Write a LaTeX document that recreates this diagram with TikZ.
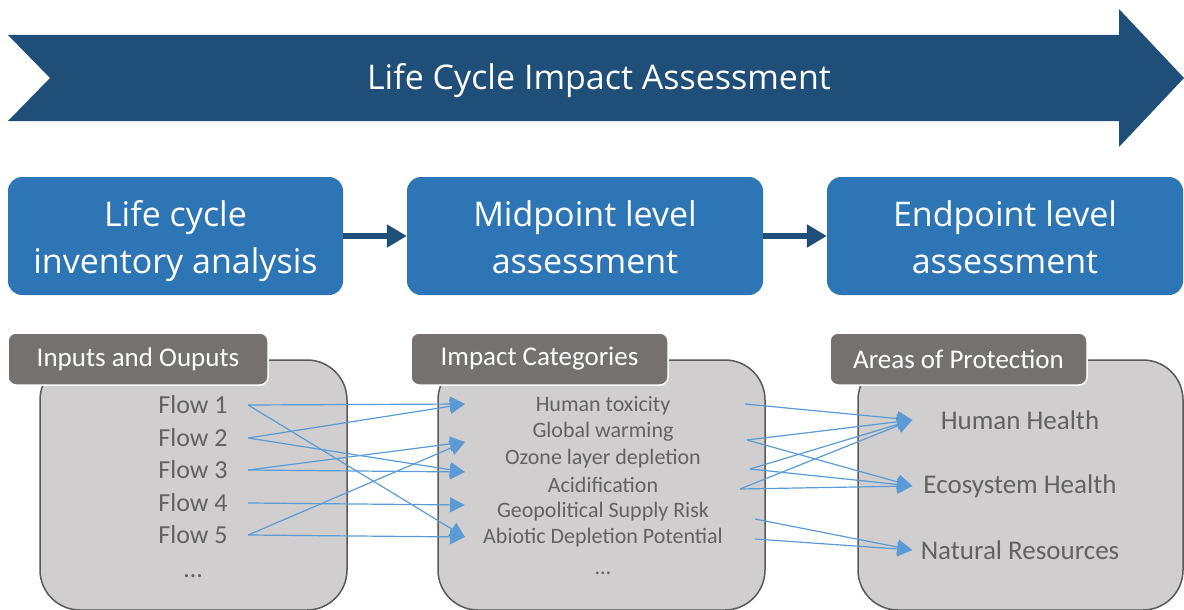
\documentclass[tikz,border=0pt]{standalone}
\usepackage{fontspec}
\setmainfont{Carlito}
\newfontfamily\headfont{Open Sans}
\usetikzlibrary{positioning,arrows.meta}
\definecolor{darkblue}{HTML}{1F4E79}
\definecolor{midblue}{HTML}{2E75B6}
\definecolor{lightblue}{HTML}{5B9BD5}
\definecolor{tabgray}{HTML}{767171}
\definecolor{panelgray}{HTML}{D0CECE}
\definecolor{edgegray}{HTML}{595959}
\definecolor{textgray}{HTML}{626262}
\newcommand{\stagestrut}{\rule{0pt}{36pt}}
\newcommand{\stagedepth}{\rule[-8pt]{0pt}{8pt}}

\begin{document}
\begin{tikzpicture}[x=1pt,y=-1pt]
\tikzstyle{stage}=[rounded corners=14pt,fill=midblue,text=white,minimum height=118pt,align=center,inner sep=0pt,font=\headfont\fontsize{34}{47}\selectfont]
\tikzstyle{panel}=[rounded corners=40pt,fill=panelgray,draw=edgegray,line width=1.5pt,minimum height=250pt]
\tikzstyle{tab}=[rounded corners=8pt,fill=tabgray,draw=white,line width=1.5pt,text=white,minimum height=52pt,font=\fontsize{27}{30}\selectfont]
\tikzstyle{flow}=[text=textgray,minimum width=110pt,inner sep=0pt,font=\fontsize{26}{30}\selectfont]
\tikzstyle{category}=[text=textgray,inner sep=0pt,font=\fontsize{22}{24}\selectfont]
\tikzstyle{area}=[text=textgray,minimum width=215pt,inner sep=0pt,font=\fontsize{27}{30}\selectfont]
\tikzstyle{link}=[lightblue,line width=1.2pt,-{Triangle[length=15pt,width=15pt]}]
\tikzstyle{stagelink}=[darkblue,line width=6pt,-{Triangle[length=20pt,width=22pt]}]
    \useasboundingbox (0,0) rectangle (1184,610);
    % banner
    \fill[darkblue] (8,35) -- (1119,35) -- (1119,9) -- (1184,78) -- (1119,147)
        -- (1119,121) -- (8,121) -- (50,78) -- cycle;
    \node[text=white,font=\headfont\fontsize{34}{40}\selectfont] (lcia) at (599,81) {Life Cycle Impact Assessment};
    % stages
    \node[stage,minimum width=335pt] (lci) at (175.5,236) {\stagestrut Life cycle\\inventory analysis\stagedepth};
    \node[stage,minimum width=356pt] (mid) at (585,236) {\stagestrut Midpoint level\\assessment\stagedepth};
    \node[stage,minimum width=356pt] (end) at (1005,236) {\stagestrut Endpoint level\\assessment\stagedepth};
    \draw[stagelink] (lci.east) -- (mid.west);
    \draw[stagelink] (mid.east) -- (end.west);
    % panels
    \node[panel,minimum width=307pt] (p1) at (193.5,485) {};
    \node[panel,minimum width=327pt] (p2) at (601.5,485) {};
    \node[panel,minimum width=325pt] (p3) at (1020.5,485) {};
    \node[tab,minimum width=260pt] (t1) at (138,359) {Inputs and Ouputs};
    \node[tab,minimum width=257pt] (t2) at (539.5,359) {Impact Categories};
    \node[tab,minimum width=257pt] (t3) at (958.5,359) {Areas of Protection};
    % flows
    \node[flow] (f1) at (193,405) {Flow 1};
    \node[flow] (f2) at (193,438) {Flow 2};
    \node[flow] (f3) at (193,470) {Flow 3};
    \node[flow] (f4) at (193,503) {Flow 4};
    \node[flow] (f5) at (193,535) {Flow 5};
    \node[flow] (fdots) at (193,576) {\dots};
    % impact categories
    \node[category] (ht) at (603,406) {Human toxicity};
    \node[category] (gw) at (603,432) {Global warming};
    \node[category] (oz) at (603,459) {Ozone layer depletion};
    \node[category] (ac) at (603,485) {Acidification};
    \node[category] (gs) at (603,512) {Geopolitical Supply Risk};
    \node[category] (ad) at (603,538) {Abiotic Depletion Potential};
    \node[category] (cdots) at (603,573) {\dots};
    % areas of protection
    \node[area] (hh) at (1020,420) {Human Health};
    \node[area] (eco) at (1020,486) {Ecosystem Health};
    \node[area] (nr) at (1020,550) {Natural Resources};
    % arrow ends
    \coordinate (in1) at (465,404);
    \coordinate (in2) at (465,442);
    \coordinate (in3) at (465,472);
    \coordinate (in4) at (465,505);
    \coordinate (in5) at (465,537);
    \coordinate (out1) at (745,404);
    \coordinate (out2) at (747,440);
    \coordinate (out3) at (750,469);
    \coordinate (out4) at (740,489);
    \coordinate (out5) at (755,519);
    \coordinate (out6) at (755,539);
    \draw[link] (f1.east) -- (in1);
    \draw[link] (f1.east) -- (in5);
    \draw[link] (f2.east) -- (in1);
    \draw[link] (f2.east) -- (in3);
    \draw[link] (f3.east) -- (in2);
    \draw[link] (f3.east) -- (in3);
    \draw[link] (f4.east) -- (in4);
    \draw[link] (f5.east) -- (in2);
    \draw[link] (f5.east) -- (in5);
    \draw[link] (out1) -- (hh.west);
    \draw[link] (out2) -- (hh.west);
    \draw[link] (out2) -- (eco.west);
    \draw[link] (out3) -- (hh.west);
    \draw[link] (out3) -- (eco.west);
    \draw[link] (out4) -- (hh.west);
    \draw[link] (out4) -- (eco.west);
    \draw[link] (out5) -- (nr.west);
    \draw[link] (out6) -- (nr.west);
\end{tikzpicture}
\end{document}
